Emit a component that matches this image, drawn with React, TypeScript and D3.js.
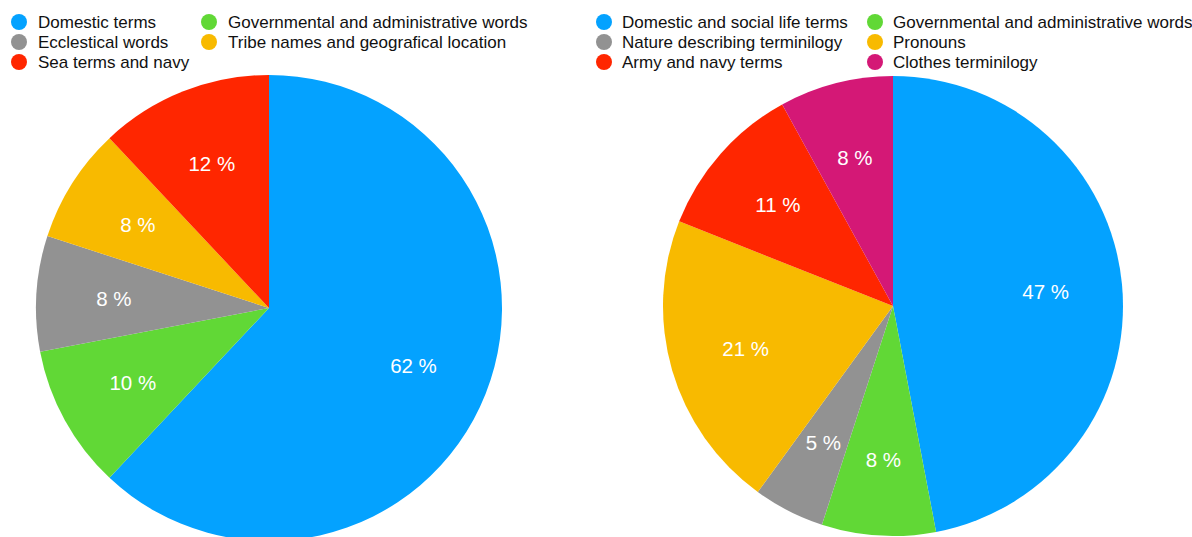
import React from "react";
import * as d3 from "d3";

const leftCategories = [
  "Domestic terms",
  "Governmental and administrative words",
  "Ecclestical words",
  "Tribe names and geografical location",
  "Sea terms and navy",
];
const leftValues = [62, 10, 8, 8, 12];
const leftColors = ["#04A2FF", "#61D836", "#929292", "#F8BA00", "#FF2600"];

const rightCategories = [
  "Domestic and social life terms",
  "Governmental and administrative words",
  "Nature describing terminilogy",
  "Pronouns",
  "Army and navy terms",
  "Clothes terminilogy",
];
const rightValues = [47, 8, 5, 21, 11, 8];
const rightColors = ["#04A2FF", "#61D836", "#929292", "#F8BA00", "#FF2600", "#D41876"];

const FONT = "'Liberation Sans', Arial, Helvetica, sans-serif";

type PieProps = {
  cx: number;
  cy: number;
  r: number;
  categories: string[];
  values: number[];
  colors: string[];
  legendCols: [number, number];
  legendTextCols: [number, number];
};

function Pie({ cx, cy, r, categories, values, colors, legendCols, legendTextCols }: PieProps) {
  const pie = d3
    .pie<number>()
    .sort(null)
    .value((d) => d)
    .startAngle(0)
    .endAngle(2 * Math.PI);
  const arcs = pie(values);
  const arc = d3.arc<d3.PieArcDatum<number>>().innerRadius(0).outerRadius(r);
  const labelArc = d3
    .arc<d3.PieArcDatum<number>>()
    .innerRadius(r * 0.667)
    .outerRadius(r * 0.667);
  const legendY = d3.scaleLinear().domain([0, 1]).range([22, 42]);

  return (
    <g>
      <g transform={`translate(${cx},${cy})`}>
        {arcs.map((a, i) => (
          <path key={i} d={arc(a) || ""} fill={colors[i]} />
        ))}
        {arcs.map((a, i) => {
          const [x, y] = labelArc.centroid(a);
          return (
            <text
              key={"l" + i}
              x={x}
              y={y}
              textAnchor="middle"
              dominantBaseline="central"
              fill="#fff"
              fontFamily={FONT}
              fontSize={20.5}
            >
              {`${values[i]} %`}
            </text>
          );
        })}
      </g>
      {categories.map((c, i) => {
        const col = i % 2;
        const row = Math.floor(i / 2);
        const y = legendY(row);
        return (
          <g key={"lg" + i}>
            <circle cx={legendCols[col]} cy={y} r={8} fill={colors[i]} />
            <text
              x={legendTextCols[col]}
              y={y}
              dominantBaseline="central"
              fontFamily={FONT}
              fontSize={17}
              fill="#111"
            >
              {c}
            </text>
          </g>
        );
      })}
    </g>
  );
}

export default function App() {
  return (
    <svg
      width={1192}
      height={537}
      style={{ position: "absolute", left: 0, top: 0, display: "block", background: "#fff" }}
    >
      <Pie
        cx={269}
        cy={308}
        r={233}
        categories={leftCategories}
        values={leftValues}
        colors={leftColors}
        legendCols={[19, 209]}
        legendTextCols={[38, 228]}
      />
      <Pie
        cx={893}
        cy={306}
        r={230}
        categories={rightCategories}
        values={rightValues}
        colors={rightColors}
        legendCols={[604, 875]}
        legendTextCols={[622, 893]}
      />
    </svg>
  );
}
